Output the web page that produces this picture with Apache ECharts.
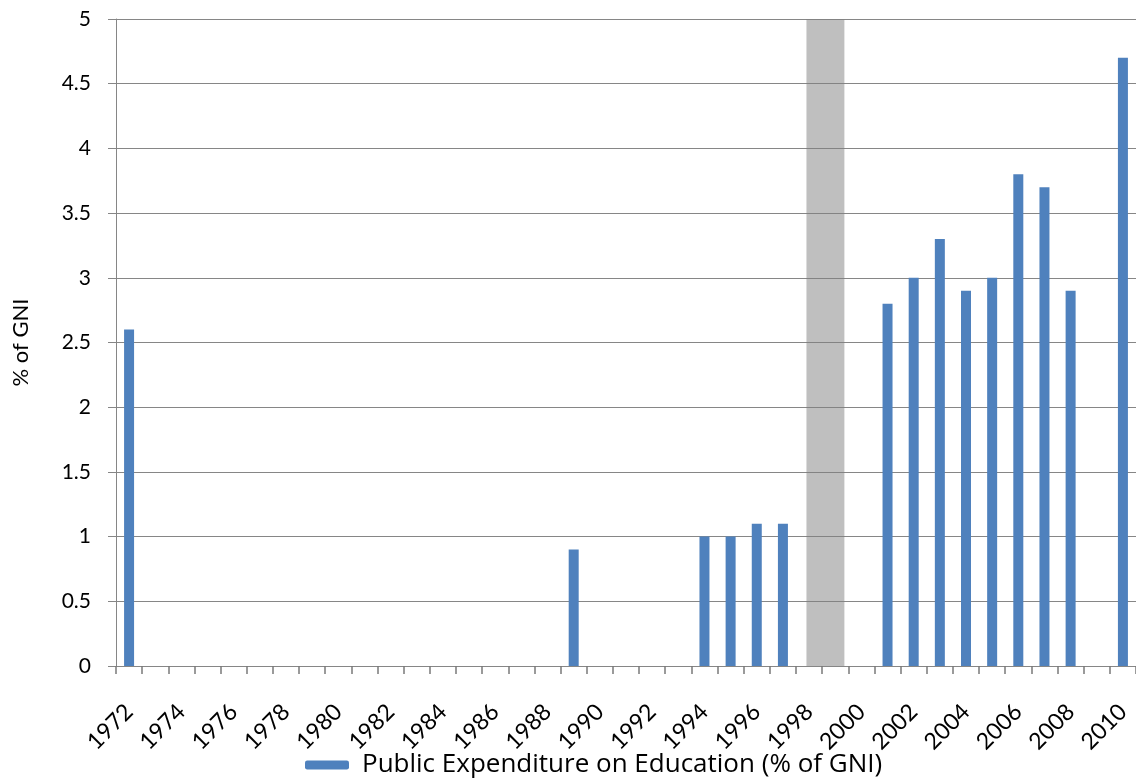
<!DOCTYPE html>
<html>
<head>
<meta charset="utf-8">
<script src="https://cdn.jsdelivr.net/npm/echarts@6/dist/echarts.min.js"></script>
<style>
  html, body { margin: 0; padding: 0; background: #ffffff; }
  #chart { width: 1136px; height: 782px; }
</style>
</head>
<body>
<div id="chart"></div>
<script>
// Years on the category axis
const years = [];
for (let y = 1972; y <= 2010; y++) years.push(String(y));

// Public expenditure on education, % of GNI (null = no data)
const expenditure = {
  1972: 2.6,
  1989: 0.9,
  1994: 1.0, 1995: 1.0, 1996: 1.1, 1997: 1.1,
  2001: 2.8, 2002: 3.0, 2003: 3.3, 2004: 2.9, 2005: 3.0,
  2006: 3.8, 2007: 3.7, 2008: 2.9,
  2010: 4.7
};
const seriesValues = years.map(y => (y in expenditure ? expenditure[y] : null));

// Shaded period (in fractional years) and its height on the value axis
const shadedSpan = [1997.9, 1999.35];
const shadedTop = 5;

// Value axis ticks
const yTicks = [0, 0.5, 1, 1.5, 2, 2.5, 3, 3.5, 4, 4.5, 5];

const font = 'Lato, "Open Sans", sans-serif';
const legendFont = '"Open Sans", Lato, sans-serif';
const axisGrey = '#868686';

const chart = echarts.init(document.getElementById('chart'), null, { renderer: 'canvas' });

chart.setOption({
  animation: false,
  backgroundColor: '#ffffff',
  grid: {
    left: 116, right: 0, top: 19, bottom: 116,
    containLabel: false,
    outerBoundsMode: 'none'
  },
  legend: {
    left: 305,
    top: 752,
    padding: 0,
    itemWidth: 44,
    itemHeight: 9,
    data: [{ name: 'Public Expenditure on Education (% of GNI)', icon: 'roundRect' }],
    textStyle: { fontFamily: legendFont, fontSize: 26, color: '#000000', padding: [0, 0, 0, 8] }
  },
  xAxis: [
    {
      type: 'category',
      data: years,
      boundaryGap: true,
      axisLine: { lineStyle: { color: axisGrey, width: 1 } },
      axisTick: { show: true, interval: 0, length: 8, alignWithLabel: false, lineStyle: { color: '#7a7a7a', width: 1.5 } },
      axisLabel: {
        interval: 1,
        rotate: 45,
        margin: 42,
        fontFamily: font,
        fontSize: 23,
        color: '#000000'
      },
      splitLine: { show: false }
    },
    {
      type: 'value',
      min: 1971.5,
      max: 2010.5,
      show: false,
      splitLine: { show: false }
    }
  ],
  yAxis: {
    type: 'value',
    min: 0,
    max: 5,
    interval: 0.5,
    name: '% of GNI',
    nameLocation: 'middle',
    nameGap: 84,
    nameTextStyle: { fontFamily: font, fontSize: 22, color: '#000000' },
    axisLine: { show: true, lineStyle: { color: axisGrey, width: 1 } },
    axisTick: { show: true, length: 8, lineStyle: { color: axisGrey } },
    axisLabel: {
      margin: 25,
      fontFamily: font,
      fontSize: 21,
      color: '#000000',
      formatter: v => (yTicks.includes(v) ? String(v) : '')
    },
    splitLine: { show: true, lineStyle: { color: axisGrey, width: 1 } }
  },
  series: [
    {
      name: 'shaded',
      type: 'custom',
      xAxisIndex: 1,
      yAxisIndex: 0,
      silent: true,
      z: 1,
      data: [[shadedSpan[0], shadedSpan[1], shadedTop]],
      renderItem: (params, api) => {
        const p0 = api.coord([api.value(0), api.value(2)]);
        const p1 = api.coord([api.value(1), 0]);
        return {
          type: 'rect',
          shape: { x: p0[0], y: p0[1], width: p1[0] - p0[0], height: p1[1] - p0[1] },
          style: { fill: 'rgba(128,128,128,0.5)' }
        };
      }
    },
    {
      name: 'Public Expenditure on Education (% of GNI)',
      type: 'bar',
      xAxisIndex: 0,
      data: seriesValues,
      barWidth: 10,
      itemStyle: { color: '#4f81bd' },
      z: 2
    }
  ]
});
</script>
</body>
</html>
